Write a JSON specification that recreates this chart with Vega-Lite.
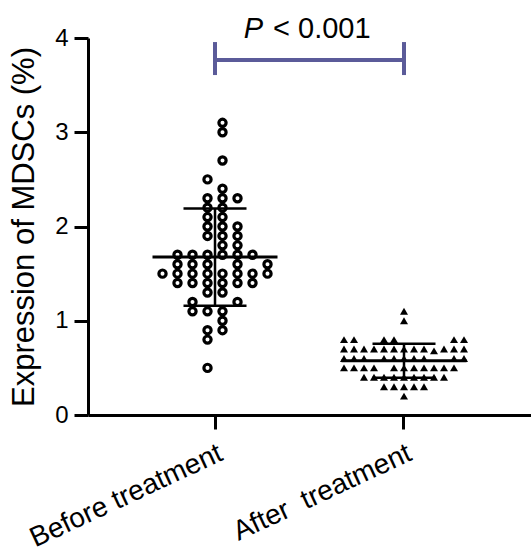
{
  "$schema": "https://vega.github.io/schema/vega-lite/v6.json",
  "width": 443,
  "height": 377,
  "autosize": "none",
  "padding": {"left": 88, "top": 38, "right": 0, "bottom": 135},
  "background": "white",
  "config": {
    "view": {"stroke": null},
    "font": "Liberation Sans",
    "axis": {
      "domainColor": "black", "tickColor": "black", "labelColor": "black", "titleColor": "black",
      "domainWidth": 3, "tickWidth": 3, "tickSize": 14, "grid": false,
      "labelFont": "Liberation Sans", "titleFont": "Liberation Sans"
    }
  },
  "datasets": {
    "pts": [
      {"g": "Before treatment", "v": 3.1, "col": 0.5},
      {"g": "Before treatment", "v": 3.0, "col": 0.5},
      {"g": "Before treatment", "v": 2.7, "col": 0.5},
      {"g": "Before treatment", "v": 2.5, "col": -0.5},
      {"g": "Before treatment", "v": 2.4, "col": 0.5},
      {"g": "Before treatment", "v": 2.3, "col": -0.5},
      {"g": "Before treatment", "v": 2.3, "col": 0.5},
      {"g": "Before treatment", "v": 2.3, "col": 1.5},
      {"g": "Before treatment", "v": 2.2, "col": -0.5},
      {"g": "Before treatment", "v": 2.2, "col": 0.5},
      {"g": "Before treatment", "v": 2.1, "col": -0.5},
      {"g": "Before treatment", "v": 2.1, "col": 0.5},
      {"g": "Before treatment", "v": 2.0, "col": -0.5},
      {"g": "Before treatment", "v": 2.0, "col": 0.5},
      {"g": "Before treatment", "v": 2.0, "col": 1.5},
      {"g": "Before treatment", "v": 1.9, "col": -0.5},
      {"g": "Before treatment", "v": 1.9, "col": 0.5},
      {"g": "Before treatment", "v": 1.9, "col": 1.5},
      {"g": "Before treatment", "v": 1.8, "col": 0.5},
      {"g": "Before treatment", "v": 1.8, "col": 1.5},
      {"g": "Before treatment", "v": 1.7, "col": -2.5},
      {"g": "Before treatment", "v": 1.7, "col": -1.5},
      {"g": "Before treatment", "v": 1.7, "col": -0.5},
      {"g": "Before treatment", "v": 1.7, "col": 0.5},
      {"g": "Before treatment", "v": 1.7, "col": 1.5},
      {"g": "Before treatment", "v": 1.7, "col": 2.5},
      {"g": "Before treatment", "v": 1.6, "col": -2.5},
      {"g": "Before treatment", "v": 1.6, "col": -1.5},
      {"g": "Before treatment", "v": 1.6, "col": -0.5},
      {"g": "Before treatment", "v": 1.6, "col": 1.5},
      {"g": "Before treatment", "v": 1.6, "col": 3.5},
      {"g": "Before treatment", "v": 1.5, "col": -3.5},
      {"g": "Before treatment", "v": 1.5, "col": -2.5},
      {"g": "Before treatment", "v": 1.5, "col": -1.5},
      {"g": "Before treatment", "v": 1.5, "col": -0.5},
      {"g": "Before treatment", "v": 1.5, "col": 0.5},
      {"g": "Before treatment", "v": 1.5, "col": 1.5},
      {"g": "Before treatment", "v": 1.5, "col": 2.5},
      {"g": "Before treatment", "v": 1.5, "col": 3.5},
      {"g": "Before treatment", "v": 1.4, "col": -2.5},
      {"g": "Before treatment", "v": 1.4, "col": -1.5},
      {"g": "Before treatment", "v": 1.4, "col": -0.5},
      {"g": "Before treatment", "v": 1.4, "col": 0.5},
      {"g": "Before treatment", "v": 1.4, "col": 1.5},
      {"g": "Before treatment", "v": 1.4, "col": 2.5},
      {"g": "Before treatment", "v": 1.3, "col": -0.5},
      {"g": "Before treatment", "v": 1.3, "col": 0.5},
      {"g": "Before treatment", "v": 1.2, "col": -1.5},
      {"g": "Before treatment", "v": 1.2, "col": 1.5},
      {"g": "Before treatment", "v": 1.1, "col": -1.5},
      {"g": "Before treatment", "v": 1.1, "col": -0.5},
      {"g": "Before treatment", "v": 1.1, "col": 0.5},
      {"g": "Before treatment", "v": 1.0, "col": 0.5},
      {"g": "Before treatment", "v": 0.9, "col": -0.5},
      {"g": "Before treatment", "v": 0.9, "col": 0.5},
      {"g": "Before treatment", "v": 0.8, "col": -0.5},
      {"g": "Before treatment", "v": 0.5, "col": -0.5},
      {"g": "After  treatment", "v": 1.1, "col": 0},
      {"g": "After  treatment", "v": 1.0, "col": 0},
      {"g": "After  treatment", "v": 0.8, "col": -6},
      {"g": "After  treatment", "v": 0.8, "col": -5},
      {"g": "After  treatment", "v": 0.8, "col": -2},
      {"g": "After  treatment", "v": 0.8, "col": -1},
      {"g": "After  treatment", "v": 0.8, "col": 5},
      {"g": "After  treatment", "v": 0.8, "col": 6},
      {"g": "After  treatment", "v": 0.7, "col": -6},
      {"g": "After  treatment", "v": 0.7, "col": -5},
      {"g": "After  treatment", "v": 0.7, "col": -4},
      {"g": "After  treatment", "v": 0.7, "col": -3},
      {"g": "After  treatment", "v": 0.7, "col": -2},
      {"g": "After  treatment", "v": 0.7, "col": -1},
      {"g": "After  treatment", "v": 0.7, "col": 0},
      {"g": "After  treatment", "v": 0.7, "col": 1},
      {"g": "After  treatment", "v": 0.7, "col": 2},
      {"g": "After  treatment", "v": 0.68, "col": 3},
      {"g": "After  treatment", "v": 0.7, "col": 4},
      {"g": "After  treatment", "v": 0.7, "col": 5},
      {"g": "After  treatment", "v": 0.7, "col": 6},
      {"g": "After  treatment", "v": 0.6, "col": -6},
      {"g": "After  treatment", "v": 0.6, "col": -5},
      {"g": "After  treatment", "v": 0.6, "col": -4},
      {"g": "After  treatment", "v": 0.6, "col": -2},
      {"g": "After  treatment", "v": 0.6, "col": -1},
      {"g": "After  treatment", "v": 0.6, "col": 0},
      {"g": "After  treatment", "v": 0.6, "col": 1},
      {"g": "After  treatment", "v": 0.6, "col": 2},
      {"g": "After  treatment", "v": 0.6, "col": 5},
      {"g": "After  treatment", "v": 0.6, "col": 6},
      {"g": "After  treatment", "v": 0.5, "col": -6},
      {"g": "After  treatment", "v": 0.5, "col": -5},
      {"g": "After  treatment", "v": 0.5, "col": -4},
      {"g": "After  treatment", "v": 0.5, "col": -3},
      {"g": "After  treatment", "v": 0.5, "col": -1},
      {"g": "After  treatment", "v": 0.5, "col": 0},
      {"g": "After  treatment", "v": 0.5, "col": 1},
      {"g": "After  treatment", "v": 0.5, "col": 2},
      {"g": "After  treatment", "v": 0.5, "col": 3},
      {"g": "After  treatment", "v": 0.5, "col": 4},
      {"g": "After  treatment", "v": 0.5, "col": 5},
      {"g": "After  treatment", "v": 0.4, "col": -4},
      {"g": "After  treatment", "v": 0.4, "col": -3},
      {"g": "After  treatment", "v": 0.4, "col": -2},
      {"g": "After  treatment", "v": 0.4, "col": -1},
      {"g": "After  treatment", "v": 0.4, "col": 0},
      {"g": "After  treatment", "v": 0.4, "col": 1},
      {"g": "After  treatment", "v": 0.4, "col": 2},
      {"g": "After  treatment", "v": 0.4, "col": 3},
      {"g": "After  treatment", "v": 0.4, "col": 4},
      {"g": "After  treatment", "v": 0.3, "col": -2},
      {"g": "After  treatment", "v": 0.3, "col": -1},
      {"g": "After  treatment", "v": 0.3, "col": 0},
      {"g": "After  treatment", "v": 0.3, "col": 1},
      {"g": "After  treatment", "v": 0.3, "col": 2},
      {"g": "After  treatment", "v": 0.2, "col": 0}
    ],
    "bracket": [
      {"g": "Before treatment", "y": 3.767, "top": 3.957, "bottom": 3.607},
      {"g": "After  treatment", "y": 3.767, "top": 3.957, "bottom": 3.607}
    ],
    "label": [
      {"g": "Before treatment", "y": 4.0, "p": "P", "rest": "< 0.001"}
    ]
  },
  "encoding": {
    "x": {
      "field": "g", "type": "nominal", "sort": ["Before treatment", "After  treatment"],
      "scale": {"paddingInner": 0, "paddingOuter": 0.172},
      "axis": {"title": null, "labelAngle": -25, "labelAlign": "right", "labelBaseline": "top", "labelFontSize": 28, "labelPadding": 10, "labelLimit": 0,
        "labelExpr": "replace(datum.label, '  ', ' \u00a0')"}
    }
  },
  "layer": [
    {
      "data": {"name": "pts"},
      "transform": [{"filter": "datum.g === 'Before treatment'"}],
      "mark": {"type": "point", "shape": "circle", "filled": false, "size": 52, "strokeWidth": 3.2, "color": "black", "opacity": 1},
      "encoding": {
        "xOffset": {"field": "col", "type": "quantitative", "scale": {"domain": [-3.5, 3.5], "range": [42, 147]}},
        "y": {"field": "v", "type": "quantitative", "title": "Expression of MDSCs (%)", "scale": {"domain": [0, 4], "nice": false},
          "axis": {"values": [0, 1, 2, 3, 4], "format": "d", "titleFontSize": 31, "titleFontWeight": "normal", "titlePadding": 14, "labelFontSize": 24, "labelPadding": 6}}
      }
    },
    {
      "data": {"name": "pts"},
      "transform": [{"filter": "datum.g !== 'Before treatment'"}],
      "mark": {"type": "point", "shape": "triangle-up", "filled": true, "size": 64, "color": "black", "opacity": 1},
      "encoding": {
        "xOffset": {"field": "col", "type": "quantitative", "scale": {"domain": [-6, 6], "range": [34.5, 154.5]}},
        "y": {"field": "v", "type": "quantitative", "title": "Expression of MDSCs (%)"}
      }
    },
    {
      "data": {"name": "pts"},
      "mark": {"type": "errorbar", "extent": "stdev", "color": "black", "opacity": 1, "ticks": {"size": 63, "thickness": 2.5, "color": "black", "opacity": 1}, "rule": {"strokeWidth": 2.5, "color": "black", "opacity": 1}},
      "encoding": {
        "y": {"field": "v", "type": "quantitative", "title": "Expression of MDSCs (%)"}
      }
    },
    {
      "data": {"name": "pts"},
      "transform": [{"aggregate": [{"op": "mean", "field": "v", "as": "m"}], "groupby": ["g"]}],
      "mark": {"type": "tick", "size": 125, "thickness": 3, "color": "black", "opacity": 1},
      "encoding": {
        "y": {"field": "m", "type": "quantitative", "title": "Expression of MDSCs (%)"}
      }
    },
    {
      "data": {"name": "bracket"},
      "mark": {"type": "line", "color": "#5b5b99", "strokeWidth": 4},
      "encoding": {
        "y": {"field": "y", "type": "quantitative", "title": "Expression of MDSCs (%)"}
      }
    },
    {
      "data": {"name": "bracket"},
      "mark": {"type": "rule", "color": "#5b5b99", "strokeWidth": 4},
      "encoding": {
        "y": {"field": "bottom", "type": "quantitative", "title": "Expression of MDSCs (%)"},
        "y2": {"field": "top"}
      }
    },
    {
      "data": {"name": "label"},
      "mark": {"type": "text", "fontSize": 29, "fontStyle": "italic", "align": "right", "baseline": "alphabetic", "color": "black"},
      "encoding": {
        "x": {"field": "g", "type": "nominal", "bandPosition": 0.754},
        "y": {"field": "y", "type": "quantitative", "title": "Expression of MDSCs (%)"},
        "text": {"field": "p"}
      }
    },
    {
      "data": {"name": "label"},
      "mark": {"type": "text", "fontSize": 29, "align": "left", "baseline": "alphabetic", "color": "black"},
      "encoding": {
        "x": {"field": "g", "type": "nominal", "bandPosition": 0.807},
        "y": {"field": "y", "type": "quantitative", "title": "Expression of MDSCs (%)"},
        "text": {"field": "rest"}
      }
    }
  ],
  "resolve": {"scale": {"xOffset": "independent"}}
}
